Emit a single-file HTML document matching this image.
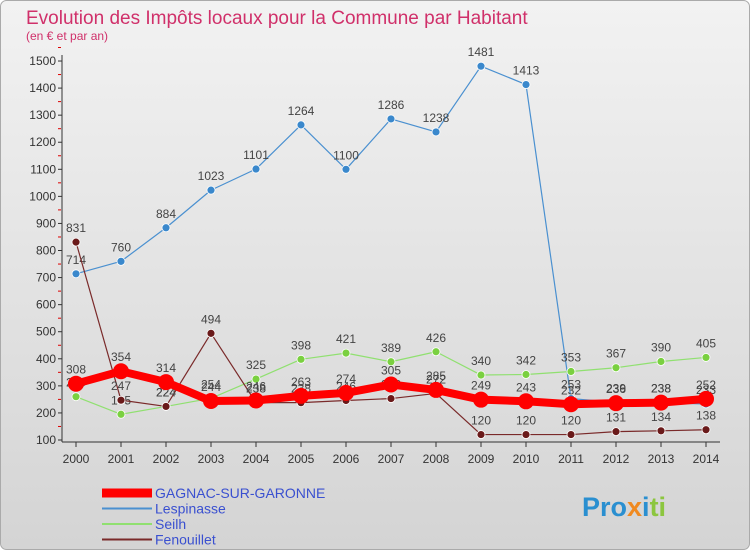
<!DOCTYPE html>
<html><head><meta charset="utf-8"><style>
body{margin:0;width:750px;height:550px;overflow:hidden;font-family:"Liberation Sans",sans-serif}
</style></head><body>
<svg width="750" height="550" xmlns="http://www.w3.org/2000/svg">
<defs><linearGradient id="bg" x1="0" y1="0" x2="0" y2="1"><stop offset="0" stop-color="#f2f2f2"/><stop offset="1" stop-color="#d4d4d4"/></linearGradient></defs>
<rect x="0.5" y="0.5" width="749" height="549" rx="6" fill="url(#bg)" stroke="#aaa"/>
<text x="26" y="24" font-size="19" fill="#d0306a">Evolution des Impôts locaux pour la Commune par Habitant</text>
<text x="26" y="40" font-size="12" fill="#d0306a">(en € et par an)</text>
<g id="axes"></g><g id="series"></g><g id="legend"></g>
<text x="582" y="516" font-size="27" font-weight="bold"><tspan fill="#2a8fd0">Pro</tspan><tspan fill="#f08a20">x</tspan><tspan fill="#2a8fd0">i</tspan><tspan fill="#8cc63f">ti</tspan></text>
</svg>
<script>
const years=[2000,2001,2002,2003,2004,2005,2006,2007,2008,2009,2010,2011,2012,2013,2014];
const yTicks=[100,200,300,400,500,600,700,800,900,1000,1100,1200,1300,1400,1500];
const gagnac=[308,354,314,244,246,263,274,305,285,249,243,232,236,238,252];
const lespinasse=[714,760,884,1023,1101,1264,1100,1286,1238,1481,1413,253,239,238,233];
const seilh=[260,195,224,254,325,398,421,389,426,340,342,353,367,390,405];
const fenouillet=[831,247,224,494,238,238,246,253,272,120,120,120,131,134,138];
const NS="http://www.w3.org/2000/svg";
const X=i=>76+i*45;
const Y=v=>440-(v-100)*0.2707;
function el(t,a,p){const e=document.createElementNS(NS,t);for(const k in a)e.setAttribute(k,a[k]);p.appendChild(e);return e;}
const ax=document.getElementById('axes');
const yl=el('line',{x1:62,y1:55,x2:62,y2:442,stroke:'#333'},ax);


const xl=el('line',{x1:62,y1:442,x2:720,y2:442,stroke:'#333'},ax);


yTicks.forEach(v=>{
 el('line',{x1:58,y1:Y(v),x2:62,y2:Y(v),stroke:'#333'},ax);
 el('line',{x1:58,y1:Y(v+50),x2:61,y2:Y(v+50),stroke:'#d00'},ax);
 const t=el('text',{x:56,y:Y(v)+4,'font-size':12,'text-anchor':'end',fill:'#333'},ax);t.textContent=v;
 
 
});
years.forEach((y,i)=>{
 el('line',{x1:X(i),y1:442,x2:X(i),y2:447,stroke:'#333'},ax);
 const t=el('text',{x:X(i),y:463,'font-size':12,'text-anchor':'middle',fill:'#333'},ax);t.textContent=y;
 
 
});
const sg=document.getElementById('series');
function series(data,color,w,r,name,dot){
 const g=el('g',{},sg);
 
 
 el('polyline',{points:data.map((v,i)=>X(i)+','+Y(v)).join(' '),fill:'none',stroke:color,'stroke-width':w,'stroke-linejoin':'round'},g);
 data.forEach((v,i)=>{
  const c=el('circle',{cx:X(i),cy:Y(v),r:r,fill:dot,stroke:color==='#f00'?'#e00':'#fff','stroke-width':color==='#f00'?0:0.8},g);
  
  
  const t=el('text',{x:X(i),y:Y(v)-10,'font-size':12,'text-anchor':'middle',fill:'#444'},g);t.textContent=v;
 });
}
series(lespinasse,'#4a90d0',1.2,4,'lespinasse-series','#3a88cc');
series(seilh,'#90e070',1.2,4,'seilh-series','#7ad040');
series(fenouillet,'#7a2a2a',1.2,4,'fenouillet-series','#6a1a1a');
series(gagnac,'#f00',8,8,'gagnac-series','#f00');
const lg=document.getElementById('legend');
[['GAGNAC-SUR-GARONNE','#f00',9],['Lespinasse','#4a90d0',2],['Seilh','#90e070',2],['Fenouillet','#7a2a2a',2]].forEach((d,i)=>{
 const y=493+i*15.5;
 const g=el('g',{},lg);
 
 
 el('line',{x1:102,y1:y,x2:152,y2:y,stroke:d[1],'stroke-width':d[2]},g);
 const t=el('text',{x:155,y:y+5,'font-size':14,fill:'#3a50d0'},g);t.textContent=d[0];
});
</script>
</body></html>
